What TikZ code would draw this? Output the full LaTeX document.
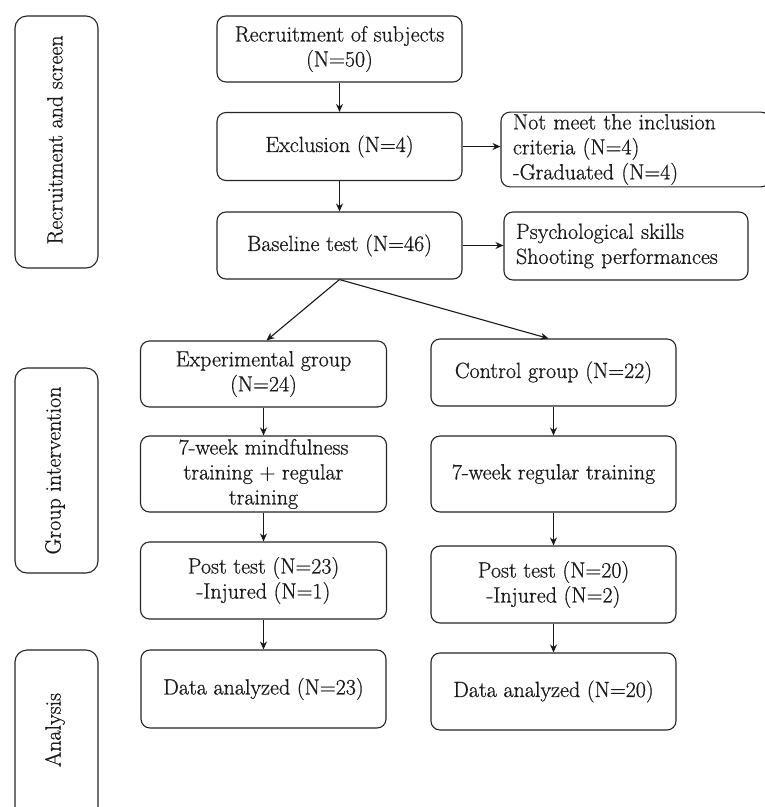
\documentclass[tikz,border=0pt]{standalone}
\usepackage{fontspec}
\setmainfont{Latin Modern Roman}[FakeBold=0.7]
\usetikzlibrary{arrows.meta}
\begin{document}
\begin{tikzpicture}[x=1pt,y=-1pt,
  box/.style={draw=black!85, line width=1.1pt, rounded corners=9pt, align=center, inner sep=2pt,
    font=\fontsize{22}{25}\selectfont, text=black!90},
  lbox/.style={box, align=left, text width=#1},
  side/.style={draw=black!85, line width=1.1pt, rounded corners=12pt, minimum width=83pt},
  sidetext/.style={rotate=90, font=\fontsize{22}{25}\selectfont, text=black!90},
  arr/.style={draw=black!90, line width=1.1pt, -{Stealth[length=8pt,width=7pt]}}
]
\clip (0,0) rectangle (765,807);
\fill[white] (0,0) rectangle (765,807);

% side labels
\node[side, minimum height=252pt] (rs) at (56.5,142) {};
\node[sidetext] (rst) at (55,140) {Recruitment and screen};
\node[side, minimum height=205pt] (gi) at (56.5,470.5) {};
\node[sidetext] (git) at (55,470.5) {Group intervention};
\node[side, minimum height=170pt] (an) at (56.5,735) {};
\node[sidetext] (ant) at (55,730) {Analysis};

% top column
\node[box, minimum width=245pt, minimum height=66pt] (rec) at (339.5,49) {Recruitment of subjects\\(N=50)};
\node[box, minimum width=245pt, minimum height=68pt] (exc) at (339.5,146.5) {Exclusion (N=4)};
\node[box, minimum width=245pt, minimum height=67pt] (base) at (339.5,245.5) {Baseline test (N=46)};

\node[lbox=245pt, minimum height=73pt, inner xsep=12pt] (nm) at (635.5,149.5) {Not meet the inclusion\\criteria (N=4)\\-Graduated (N=4)};
\node[lbox=220pt, minimum height=68pt, inner xsep=12pt] (ps) at (626,246) {Psychological skills\\Shooting performances};

% experimental column
\node[box, minimum width=246pt, minimum height=66pt] (exp) at (263.5,374) {Experimental group\\(N=24)};
\node[box, minimum width=246pt, minimum height=76pt] (etr) at (263.5,474) {7-week mindfulness\\training + regular\\training};
\node[box, minimum width=246pt, minimum height=77pt] (epo) at (263.5,580.5) {Post test (N=23)\\-Injured (N=1)};
\node[box, minimum width=245pt, minimum height=78pt] (eda) at (263.5,689) {Data analyzed (N=23)};

% control column
\node[box, minimum width=245pt, minimum height=67pt] (ctl) at (553.5,372.5) {Control group (N=22)};
\node[box, minimum width=245pt, minimum height=76pt] (ctr) at (553.5,474) {7-week regular training};
\node[box, minimum width=245pt, minimum height=77pt] (cpo) at (553.5,584.5) {Post test (N=20)\\-Injured (N=2)};
\node[box, minimum width=245pt, minimum height=77pt] (cda) at (553.5,691.5) {Data analyzed (N=20)};

% connectors
\draw[arr] (rec) -- (exc);
\draw[arr] (exc) -- (base);
\draw[arr] (exc.east) -- (exc.east -| nm.west);
\draw[arr] (base.east) -- (base.east -| ps.west);
\draw[arr] (base.south) -- ([xshift=3pt]exp.north);
\draw[arr] (base.south) -- ([xshift=-5pt]ctl.north);
\draw[arr] (exp) -- (etr);
\draw[arr] (etr) -- (epo);
\draw[arr] (epo) -- (eda);
\draw[arr] (ctl) -- (ctr);
\draw[arr] (ctr) -- (cpo);
\draw[arr] (cpo) -- (cda);
\end{tikzpicture}
\end{document}
